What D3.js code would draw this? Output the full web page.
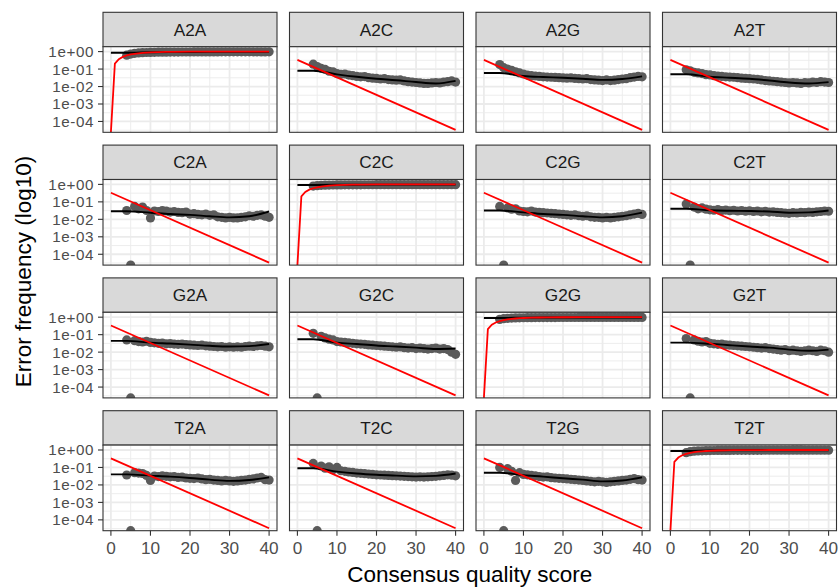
<!DOCTYPE html>
<html>
<head>
<meta charset="utf-8">
<script src="https://cdn.jsdelivr.net/npm/d3@7"></script>
<style>
  body { margin: 0; background: #ffffff; }
  svg { font-family: "Liberation Sans", Arial, sans-serif; }
</style>
</head>
<body>
<svg id="errChart" width="839" height="587"></svg>
<script>
// transitions, facet order (4 x 4)
const transitions = ['A2A','A2C','A2G','A2T','C2A','C2C','C2G','C2T','G2A','G2C','G2G','G2T','T2A','T2C','T2G','T2T'];

const xTicks = [0, 10, 20, 30, 40];
const yTicks = [1e0, 1e-1, 1e-2, 1e-3, 1e-4];
const yTickLabels = ['1e+00','1e-01','1e-02','1e-03','1e-04'];

// observed error frequencies (0 = no errors seen)
const obsQual = [4,5,6,7,8,9,10,11,12,13,14,15,16,17,18,19,20,21,22,23,24,25,26,27,28,29,30,31,32,33,34,35,36,37,38,39,40];

const obsA2A = [0.62,0.72,0.80,0.84,0.87,0.89,0.90,0.91,0.92,0.925,0.93,0.935,0.94,0.94,0.945,0.95,0.95,0.952,0.955,0.955,0.958,0.96,0.96,0.962,0.965,0.965,0.967,0.968,0.97,0.97,0.97,0.968,0.966,0.965,0.963,0.962,0.965];
const obsA2C = [0.19,0.14,0.11,0.095,0.075,0.07,0.055,0.05,0.052,0.045,0.042,0.038,0.036,0.037,0.032,0.030,0.029,0.027,0.028,0.025,0.024,0.023,0.024,0.021,0.019,0.018,0.017,0.016,0.015,0.015,0.016,0.017,0.016,0.018,0.019,0.021,0.018];
const obsA2G = [0.18,0.12,0.10,0.085,0.07,0.06,0.052,0.045,0.042,0.040,0.038,0.036,0.035,0.034,0.033,0.032,0.031,0.030,0.031,0.029,0.028,0.027,0.028,0.025,0.024,0.023,0.022,0.024,0.022,0.023,0.025,0.027,0.028,0.032,0.035,0.038,0.036];
const obsA2T = [0.09,0.08,0.065,0.06,0.055,0.048,0.046,0.042,0.040,0.038,0.036,0.035,0.034,0.032,0.030,0.029,0.028,0.027,0.026,0.024,0.022,0.021,0.020,0.019,0.018,0.017,0.016,0.017,0.016,0.015,0.017,0.016,0.018,0.017,0.019,0.018,0.017];
const obsC2A = [0.032,0,0.055,0.040,0.050,0.032,0.012,0.030,0.028,0.032,0.030,0.026,0.028,0.025,0.024,0.026,0.020,0.021,0.019,0.018,0.020,0.017,0.018,0.014,0.013,0.012,0.013,0.012,0.012,0.013,0.014,0.016,0.015,0.017,0.018,0.015,0.013];
const obsC2C = [0.80,0.85,0.88,0.90,0.91,0.92,0.93,0.935,0.94,0.94,0.945,0.95,0.95,0.952,0.955,0.955,0.958,0.96,0.96,0.962,0.963,0.965,0.965,0.966,0.967,0.968,0.97,0.97,0.97,0.969,0.968,0.967,0.966,0.965,0.964,0.965,0.966];
const obsC2G = [0.055,0,0.045,0.038,0.040,0.030,0.028,0.027,0.030,0.026,0.025,0.024,0.023,0.022,0.021,0.020,0.019,0.018,0.017,0.018,0.016,0.015,0.016,0.014,0.013,0.013,0.012,0.013,0.012,0.013,0.014,0.015,0.016,0.018,0.020,0.022,0.019];
const obsC2T = [0.075,0,0.050,0.040,0.045,0.038,0.035,0.033,0.036,0.032,0.034,0.031,0.033,0.030,0.032,0.029,0.031,0.028,0.030,0.027,0.029,0.026,0.027,0.025,0.024,0.023,0.022,0.024,0.023,0.025,0.024,0.026,0.025,0.027,0.028,0.030,0.029];
const obsG2A = [0.050,0,0.045,0.040,0.038,0.042,0.036,0.034,0.032,0.033,0.030,0.031,0.029,0.028,0.029,0.027,0.026,0.025,0.024,0.025,0.023,0.022,0.021,0.020,0.021,0.019,0.020,0.019,0.020,0.019,0.021,0.022,0.021,0.023,0.024,0.022,0.020];
const obsG2C = [0.12,0,0.08,0.065,0.055,0.05,0.040,0.038,0.036,0.034,0.032,0.030,0.029,0.028,0.026,0.025,0.024,0.023,0.022,0.021,0.020,0.019,0.020,0.018,0.017,0.018,0.016,0.017,0.016,0.015,0.016,0.017,0.015,0.016,0.014,0.010,0.0075];
const obsG2G = [0.75,0.82,0.86,0.89,0.91,0.92,0.93,0.935,0.94,0.945,0.95,0.95,0.952,0.955,0.956,0.958,0.96,0.96,0.962,0.963,0.964,0.965,0.966,0.967,0.968,0.968,0.969,0.97,0.97,0.97,0.969,0.968,0.967,0.966,0.965,0.966,0.967];
const obsG2T = [0.060,0,0.050,0.042,0.038,0.040,0.032,0.030,0.028,0.029,0.026,0.025,0.024,0.023,0.022,0.021,0.020,0.019,0.018,0.017,0.018,0.016,0.015,0.014,0.013,0.014,0.012,0.013,0.012,0.011,0.012,0.013,0.012,0.011,0.013,0.012,0.010];
const obsT2A = [0.037,0,0.050,0.048,0.045,0.035,0.018,0.032,0.030,0.033,0.031,0.029,0.030,0.027,0.028,0.025,0.024,0.023,0.025,0.022,0.020,0.021,0.019,0.018,0.017,0.018,0.017,0.016,0.017,0.018,0.019,0.021,0.022,0.025,0.027,0.020,0.019];
const obsT2C = [0.17,0,0.12,0.09,0.11,0.075,0.10,0.065,0.060,0.055,0.052,0.048,0.046,0.044,0.042,0.040,0.038,0.037,0.036,0.035,0.034,0.033,0.032,0.031,0.030,0.029,0.028,0.029,0.028,0.029,0.030,0.031,0.033,0.035,0.038,0.036,0.033];
const obsT2G = [0.10,0,0.085,0.060,0.018,0.050,0.040,0.038,0.035,0.033,0.030,0.028,0.029,0.026,0.025,0.024,0.023,0.022,0.021,0.020,0.019,0.018,0.017,0.016,0.015,0.016,0.015,0.014,0.015,0.016,0.017,0.018,0.019,0.021,0.023,0.020,0.019];
const obsT2T = [0.70,0.80,0.85,0.88,0.90,0.92,0.93,0.935,0.94,0.945,0.948,0.95,0.952,0.955,0.956,0.958,0.96,0.96,0.962,0.963,0.964,0.965,0.966,0.967,0.968,0.968,0.969,0.97,0.97,0.97,0.969,0.968,0.967,0.966,0.965,0.966,0.967];

// fitted (estimated) error rates
const estQual = [0,4,10,15,20,25,30,35,40];
const estA2A = [0.85,0.85,0.92,0.94,0.95,0.96,0.965,0.968,0.965];
const estA2C = [0.080,0.080,0.050,0.036,0.028,0.023,0.018,0.015,0.021];
const estA2G = [0.059,0.059,0.040,0.035,0.032,0.028,0.024,0.027,0.038];
const estA2T = [0.050,0.050,0.036,0.032,0.028,0.022,0.017,0.015,0.018];
const estC2A = [0.029,0.029,0.024,0.020,0.018,0.015,0.013,0.015,0.028];
const estC2C = [0.93,0.93,0.95,0.96,0.965,0.968,0.97,0.97,0.968];
const estC2G = [0.032,0.032,0.025,0.020,0.018,0.015,0.013,0.015,0.024];
const estC2T = [0.040,0.040,0.033,0.031,0.030,0.028,0.024,0.025,0.032];
const estG2A = [0.044,0.044,0.035,0.031,0.027,0.023,0.021,0.022,0.029];
const estG2C = [0.055,0.055,0.035,0.029,0.024,0.021,0.018,0.015,0.016];
const estG2G = [0.90,0.90,0.94,0.955,0.962,0.966,0.968,0.968,0.967];
const estG2T = [0.035,0.035,0.030,0.025,0.021,0.018,0.014,0.012,0.014];
const estT2A = [0.040,0.040,0.034,0.030,0.025,0.020,0.017,0.019,0.027];
const estT2C = [0.090,0.090,0.058,0.045,0.038,0.034,0.031,0.033,0.045];
const estT2G = [0.050,0.050,0.036,0.030,0.024,0.020,0.016,0.018,0.027];
const estT2T = [0.88,0.88,0.94,0.955,0.962,0.966,0.968,0.968,0.967];

// nominal error rates from the quality score
const nomQualOff = [0, 40];
const nomOff = [0.3333, 0.0000333];
const nomQualDiag = [0,1,2,3,4,5,6,7,8,9,10,12,14,16,20,25,30,40];
const nomDiag = [0,0.206,0.369,0.499,0.602,0.684,0.749,0.800,0.842,0.874,0.900,0.937,0.960,0.975,0.990,0.997,0.999,0.9999];

const obsTable = {A2A:obsA2A,A2C:obsA2C,A2G:obsA2G,A2T:obsA2T,C2A:obsC2A,C2C:obsC2C,C2G:obsC2G,C2T:obsC2T,
                  G2A:obsG2A,G2C:obsG2C,G2G:obsG2G,G2T:obsG2T,T2A:obsT2A,T2C:obsT2C,T2G:obsT2G,T2T:obsT2T};
const estTable = {A2A:estA2A,A2C:estA2C,A2G:estA2G,A2T:estA2T,C2A:estC2A,C2C:estC2C,C2G:estC2G,C2T:estC2T,
                  G2A:estG2A,G2C:estG2C,G2G:estG2G,G2T:estG2T,T2A:estT2A,T2C:estT2C,T2G:estT2G,T2T:estT2T};

const svg = d3.select('#errChart');

const panelW = 174, bodyH = 85.6, stripH = 34.4;
const colX = i => 103 + i * 186.5;
const rowY = j => 12.3 + j * 132.8;

const gridColor = '#ebebeb';
const borderColor = '#333333';
const tickTextColor = '#4d4d4d';
const smallFont = 17.2, yLabFont = 15.2, titleFont = 22.5;

const x = d3.scaleLinear().domain([-2, 42]).range([0, panelW]);
const y = d3.scaleLog().domain([Math.pow(10, -4.62), Math.pow(10, 0.28)]).range([bodyH, 0]);
// zero frequencies sit on the bottom edge, as log10(0) = -Inf does in ggplot
const yPos = v => v > 0 ? y(v) : bodyH;

const xMinor = [5, 15, 25, 35];
const yMinor = [-0.5, -1.5, -2.5, -3.5, -4.5].map(e => Math.pow(10, e));

svg.append('defs').append('clipPath').attr('id', 'panelClip')
    .append('rect').attr('x', 0).attr('y', 0).attr('width', panelW).attr('height', bodyH);

const line = d3.line().x(d => x(d[0])).y(d => yPos(d[1]));
const smooth = d3.line().x(d => x(d[0])).y(d => yPos(d[1])).curve(d3.curveMonotoneX);

transitions.forEach((tr, k) => {
    const col = k % 4, row = Math.floor(k / 4);
    const diag = tr[0] === tr[2];
    const left = colX(col), top = rowY(row);

    // strip
    svg.append('rect')
        .attr('x', left).attr('y', top).attr('width', panelW).attr('height', stripH)
        .attr('fill', '#d9d9d9').attr('stroke', borderColor).attr('stroke-width', 1.1);
    svg.append('text')
        .attr('x', left + panelW / 2).attr('y', top + stripH / 2)
        .attr('dy', '0.36em').attr('text-anchor', 'middle')
        .attr('font-size', smallFont).attr('fill', '#1a1a1a')
        .text(tr);

    const g = svg.append('g').attr('transform', `translate(${left},${top + stripH})`);

    g.append('rect').attr('width', panelW).attr('height', bodyH).attr('fill', '#ffffff');

    // grid
    xMinor.forEach(v => g.append('line').attr('x1', x(v)).attr('x2', x(v)).attr('y1', 0).attr('y2', bodyH)
        .attr('stroke', gridColor).attr('stroke-width', 0.9));
    yMinor.forEach(v => g.append('line').attr('x1', 0).attr('x2', panelW).attr('y1', y(v)).attr('y2', y(v))
        .attr('stroke', gridColor).attr('stroke-width', 0.9));
    xTicks.forEach(v => g.append('line').attr('x1', x(v)).attr('x2', x(v)).attr('y1', 0).attr('y2', bodyH)
        .attr('stroke', gridColor).attr('stroke-width', 1.8));
    yTicks.forEach(v => g.append('line').attr('x1', 0).attr('x2', panelW).attr('y1', y(v)).attr('y2', y(v))
        .attr('stroke', gridColor).attr('stroke-width', 1.8));

    const plot = g.append('g').attr('clip-path', 'url(#panelClip)');

    // observed points
    plot.selectAll('circle')
        .data(obsQual.map((q, i) => [q, obsTable[tr][i]]))
        .join('circle')
        .attr('cx', d => x(d[0])).attr('cy', d => yPos(d[1]))
        .attr('r', 4.6).attr('fill', '#5b5b5b');

    // fitted error rates
    plot.append('path')
        .attr('d', smooth(estQual.map((q, i) => [q, estTable[tr][i]])))
        .attr('fill', 'none').attr('stroke', '#000000').attr('stroke-width', 1.9);

    // nominal
    const nom = diag ? nomQualDiag.map((q, i) => [q, nomDiag[i]]) : nomQualOff.map((q, i) => [q, nomOff[i]]);
    plot.append('path')
        .attr('d', line(nom))
        .attr('fill', 'none').attr('stroke', '#ff0000').attr('stroke-width', 1.8);

    g.append('rect').attr('width', panelW).attr('height', bodyH)
        .attr('fill', 'none').attr('stroke', borderColor).attr('stroke-width', 1.1);

    // y axis on first column
    if (col === 0) {
        yTicks.forEach((v, i) => {
            g.append('line').attr('x1', -5).attr('x2', 0).attr('y1', y(v)).attr('y2', y(v))
                .attr('stroke', borderColor).attr('stroke-width', 1.1);
            g.append('text').attr('x', -9).attr('y', y(v)).attr('dy', '0.36em')
                .attr('text-anchor', 'end').attr('font-size', yLabFont).attr('fill', tickTextColor)
                .attr('letter-spacing', 0.6)
                .text(yTickLabels[i]);
        });
    }
    // x axis on bottom row
    if (row === 3) {
        xTicks.forEach(v => {
            g.append('line').attr('x1', x(v)).attr('x2', x(v)).attr('y1', bodyH).attr('y2', bodyH + 5)
                .attr('stroke', borderColor).attr('stroke-width', 1.1);
            g.append('text').attr('x', x(v)).attr('y', bodyH + 23)
                .attr('text-anchor', 'middle').attr('font-size', smallFont).attr('fill', tickTextColor)
                .text(v);
        });
    }
});

// axis titles
svg.append('text')
    .attr('x', colX(0) + (colX(3) + panelW - colX(0)) / 2).attr('y', 582)
    .attr('text-anchor', 'middle').attr('font-size', titleFont).attr('fill', '#000')
    .text('Consensus quality score');

svg.append('text')
    .attr('transform', `translate(31,${(rowY(0) + rowY(3) + stripH + bodyH) / 2}) rotate(-90)`)
    .attr('text-anchor', 'middle').attr('font-size', titleFont).attr('fill', '#000')
    .text('Error frequency (log10)');
</script>
</body>
</html>
